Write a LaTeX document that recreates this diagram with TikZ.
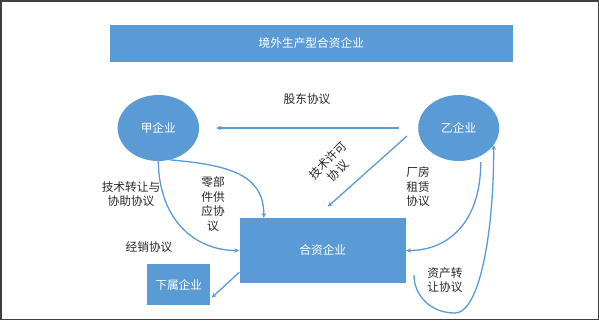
\documentclass[tikz,border=0pt]{standalone}
\usepackage{fontspec}
\setmainfont{Noto Sans CJK SC}
\usetikzlibrary{arrows.meta,shapes.geometric,calc}
\definecolor{bl}{HTML}{5B9BD5}
\definecolor{fr}{HTML}{404040}
\definecolor{tx}{HTML}{262626}
\begin{document}
\begin{tikzpicture}[x=1bp,y=-1bp,
  every node/.style={font=\fontsize{11.7bp}{14.5bp}\selectfont},
  box/.style={fill=bl, draw=none, text=white, inner sep=0pt},
  ell/.style={ellipse, fill=bl, draw=none, text=white, inner sep=0pt},
  lbl/.style={text=tx, align=center, inner sep=0pt},
  conn/.style={draw=bl, line width=1.3bp, -{Stealth[length=5bp,width=4.5bp]}}]
\useasboundingbox (0,0) rectangle (599,320);
\draw[fr, line width=1.5bp] (0.75,0.75) rectangle (598.25,319.25);

\node[box, minimum width=403.4bp, minimum height=37bp] (title) at (311.3,43.5) {境外生产型合资企业};
\node[ell, minimum width=81.4bp, minimum height=66bp] (jia) at (158.3,128) {甲企业};
\node[ell, minimum width=81bp, minimum height=66bp] (yi) at (458.7,128) {乙企业};
\node[box, minimum width=166.5bp, minimum height=65bp] (jv) at (322.75,250.5) {合资企业};
\node[box, minimum width=62.6bp, minimum height=40.4bp] (sub) at (178.7,284.5) {下属企业};

\node[lbl] (l1) at (307,99) {股东协议};
\node[lbl, rotate=45] (l2) at (333,165.5) {技术许可\\协议};
\node[lbl] (l3) at (131,194.2) {技术转让与\\协助协议};
\node[lbl] (l4) at (213,204.2) {零部\\件供\\应协\\议};
\node[lbl] (l5) at (149,246.7) {经销协议};
\node[lbl] (l6) at (418,187) {厂房\\租赁\\协议};
\node[lbl] (l7) at (445,280) {资产转\\让协议};

\coordinate (d1) at (407,136);
\coordinate (d2) at (327.7,206.7);
\coordinate (e1) at ($(jv.north west)+(24.5,0)$);
\coordinate (f0) at (480.7,162);
\coordinate (g0) at (414,275);
\coordinate (h0) at ($(jv.south west)+(0,-11)$);
\coordinate (h1) at (211.7,297.7);

\draw[conn, shorten <=19bp, shorten >=17bp] (yi) -- (jia);
\draw[conn] (d1) -- (d2);
\draw[conn] (jia.south) .. controls (159,220) and (195,250.5) .. (jv.west);
\draw[conn] (jia.-70) .. controls (230,165) and (264,175) .. (e1);
\draw[conn] (f0) .. controls (481,220) and (450,250.5) .. (jv.east);
\draw[conn] (g0) .. controls (414,295) and (430,313) .. (455,313) .. controls (480,313) and (494,230) .. (yi.-26);
\draw[conn] (h0) -- (h1);
\end{tikzpicture}
\end{document}
